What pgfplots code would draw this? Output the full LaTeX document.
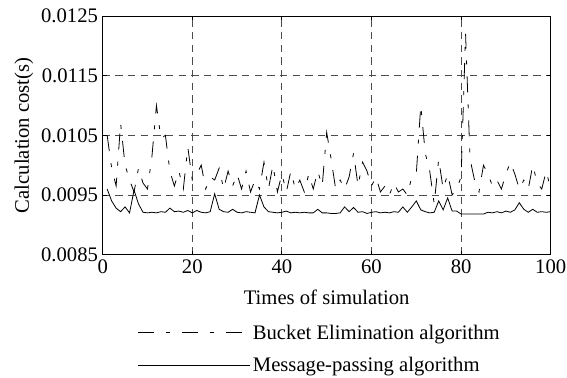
\documentclass[border=0pt]{standalone}
\usepackage{pgfplots}
\pgfplotsset{compat=1.18}
\usepackage{fontspec}
\setmainfont{Liberation Serif}
\newcommand{\chartfont}{\fontsize{15.5}{18}\selectfont}
\begin{document}
\begin{tikzpicture}
\begin{axis}[
  scale only axis,
  width=336pt, height=179pt,
  xmin=0, xmax=100, ymin=0.0085, ymax=0.0125,
  xtick={0,20,40,60,80,100},
  ytick={0.0085,0.0095,0.0105,0.0115,0.0125},
  yticklabels={0.0085,0.0095,0.0105,0.0115,0.0125},
  scaled y ticks=false,
  /pgf/number format/assume math mode=true,
  tick label style={font=\chartfont},
  label style={font=\chartfont},
  xlabel={Times of simulation},
  ylabel={Calculation cost(s)},
  xlabel style={yshift=-6pt},
  ylabel style={yshift=-1pt},
  grid=major,
  major grid style={draw=black!70, line width=0.6pt, dash pattern=on 5.5pt off 4pt},
  axis line style={line width=0.7pt},
  major tick length=3pt,
  tick style={black, line width=0.6pt},
  legend cell align=left,
  legend style={draw=none, fill=none, font=\chartfont, at={(rel axis cs:0.068,-0.27)}, anchor=north west, row sep=8pt},
]
\coordinate (bl) at (rel axis cs:-0.2292,-0.5146);
\coordinate (tr) at (rel axis cs:1.0364,1.0669);
\addplot[black, line width=0.6pt, dash pattern=on 12pt off 9pt on 3pt off 9pt,
  legend image code/.code={\draw[black, line width=0.6pt, dash pattern=on 12pt off 9pt on 3pt off 9pt on 11pt off 29pt on 3pt] (0pt,0pt) -- (77pt,0pt); \path (0pt,0pt) -- (84pt,0pt);}]
coordinates {
(1,0.01050)(2,0.00995)(3,0.00965)(4,0.01070)(5,0.01000)(6,0.00975)(7,0.00955)(8,0.00995)(9,0.00970)(10,0.00960)
(11,0.01015)(12,0.01100)(13,0.01045)(14,0.01050)(15,0.00990)(16,0.00965)(17,0.00990)(18,0.00960)(19,0.01030)(20,0.00975)
(21,0.00985)(22,0.01000)(23,0.00960)(24,0.00980)(25,0.00975)(26,0.00995)(27,0.00960)(28,0.00990)(29,0.00965)(30,0.00985)
(31,0.00960)(32,0.00990)(33,0.00955)(34,0.00975)(35,0.00960)(36,0.01005)(37,0.00960)(38,0.01000)(39,0.00955)(40,0.00985)
(41,0.00955)(42,0.00990)(43,0.00960)(44,0.00975)(45,0.00955)(46,0.00985)(47,0.00960)(48,0.00990)(49,0.00965)(50,0.01055)
(51,0.01010)(52,0.00960)(53,0.00975)(54,0.00960)(55,0.00980)(56,0.01020)(57,0.00965)(58,0.01005)(59,0.00990)(60,0.00965)
(61,0.00980)(62,0.00955)(63,0.00965)(64,0.00950)(65,0.00970)(66,0.00955)(67,0.00960)(68,0.00950)(69,0.00980)(70,0.00985)
(71,0.01100)(72,0.01020)(73,0.00990)(74,0.00935)(75,0.01010)(76,0.00960)(77,0.00985)(78,0.00950)(79,0.00960)(80,0.00980)
(81,0.01220)(82,0.01010)(83,0.00975)(84,0.00955)(85,0.01000)(86,0.00985)(87,0.00965)(88,0.00975)(89,0.00960)(90,0.00985)
(91,0.01005)(92,0.00985)(93,0.00960)(94,0.00975)(95,0.00960)(96,0.01000)(97,0.00970)(98,0.00960)(99,0.00990)(100,0.00960)
};
\addlegendentry{Bucket Elimination algorithm}
\addplot[black, line width=0.6pt, solid,
  legend image code/.code={\draw[black, line width=0.6pt] (0pt,0pt) -- (77pt,0pt); \path (0pt,0pt) -- (84pt,0pt);}]
coordinates {
(1,0.00960)(2,0.00940)(3,0.00928)(4,0.00922)(5,0.00930)(6,0.00920)(7,0.00958)(8,0.00935)(9,0.00921)(10,0.00920)
(11,0.00921)(12,0.00920)(13,0.00922)(14,0.00921)(15,0.00928)(16,0.00922)(17,0.00923)(18,0.00921)(19,0.00924)(20,0.00920)
(21,0.00924)(22,0.00921)(23,0.00920)(24,0.00922)(25,0.00952)(26,0.00926)(27,0.00922)(28,0.00921)(29,0.00926)(30,0.00921)
(31,0.00920)(32,0.00922)(33,0.00921)(34,0.00920)(35,0.00950)(36,0.00930)(37,0.00922)(38,0.00921)(39,0.00920)(40,0.00921)
(41,0.00923)(42,0.00920)(43,0.00921)(44,0.00920)(45,0.00921)(46,0.00920)(47,0.00920)(48,0.00926)(49,0.00920)(50,0.00920)
(51,0.00919)(52,0.00919)(53,0.00920)(54,0.00930)(55,0.00922)(56,0.00929)(57,0.00921)(58,0.00922)(59,0.00919)(60,0.00921)
(61,0.00922)(62,0.00920)(63,0.00921)(64,0.00920)(65,0.00922)(66,0.00921)(67,0.00930)(68,0.00921)(69,0.00930)(70,0.00940)
(71,0.00925)(72,0.00922)(73,0.00920)(74,0.00921)(75,0.00940)(76,0.00925)(77,0.00945)(78,0.00923)(79,0.00923)(80,0.00918)
(81,0.00918)(82,0.00918)(83,0.00918)(84,0.00918)(85,0.00918)(86,0.00921)(87,0.00920)(88,0.00922)(89,0.00920)(90,0.00923)
(91,0.00921)(92,0.00925)(93,0.00937)(94,0.00926)(95,0.00921)(96,0.00926)(97,0.00921)(98,0.00922)(99,0.00921)(100,0.00922)
};
\addlegendentry{Message-passing algorithm}
\end{axis}
\pgfresetboundingbox
\path[use as bounding box] (bl) rectangle (tr);
\end{tikzpicture}
\end{document}
